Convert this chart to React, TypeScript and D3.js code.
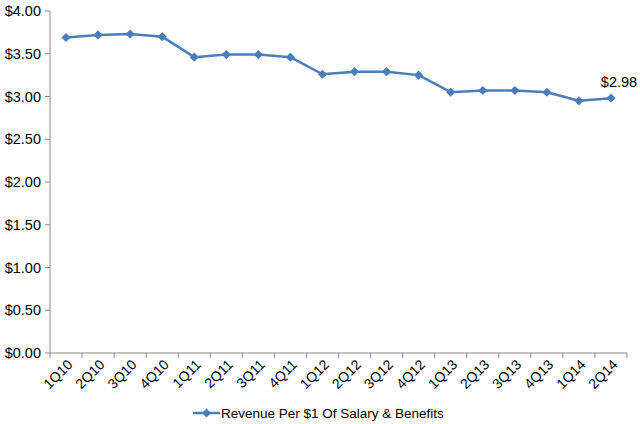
import React from "react";
import * as d3 from "d3";

const categories = ["1Q10","2Q10","3Q10","4Q10","1Q11","2Q11","3Q11","4Q11","1Q12","2Q12","3Q12","4Q12","1Q13","2Q13","3Q13","4Q13","1Q14","2Q14"];
const values = [3.69,3.72,3.73,3.70,3.46,3.49,3.49,3.46,3.26,3.29,3.29,3.25,3.05,3.07,3.07,3.05,2.95,2.98];
const yTicks = [0,0.5,1,1.5,2,2.5,3,3.5,4];
const seriesName = "Revenue Per $1 Of Salary & Benefits";

const W = 640, H = 424;
const left = 50, right = 627, top = 11, bottom = 353;
const color = "#4a7ebb";
const axisColor = "#898989";
const font = "'Liberation Sans', Arial, sans-serif";
const diamond = "M0,-4.6L4.6,0L0,4.6L-4.6,0Z";

export default function App() {
  const x = d3.scaleBand<string>().domain(categories).range([left, right]);
  const y = d3.scaleLinear().domain([0, 4]).range([bottom, top]);
  const cx = (c: string) => (x(c) as number) + x.bandwidth() / 2;
  const line = d3.line<number>().x((_, i) => cx(categories[i])).y(d => y(d));
  const tickXs = categories.map(c => x(c) as number).concat([right]);
  const last = values.length - 1;
  return (
    <svg width={W} height={H} style={{ position: "absolute", left: 0, top: 0 }} fontFamily={font}>
      <rect width={W} height={H} fill="#fff" />
      <line x1={left} x2={left} y1={top} y2={bottom} stroke={axisColor} />
      {yTicks.map(t => (
        <g key={t}>
          <line x1={left - 5} x2={left} y1={y(t)} y2={y(t)} stroke={axisColor} />
          <text x={left - 9} y={y(t)} dy="0.35em" textAnchor="end" fontSize={14.5} fill="#000">
            {"$" + t.toFixed(2)}
          </text>
        </g>
      ))}
      <line x1={left} x2={right} y1={bottom} y2={bottom} stroke={axisColor} />
      {tickXs.map((tx, i) => (
        <line key={i} x1={tx} x2={tx} y1={bottom} y2={bottom + 5} stroke={axisColor} />
      ))}
      {categories.map(c => (
        <text key={c} transform={`translate(${cx(c) + 4},${bottom + 9}) rotate(-45)`} textAnchor="end" dy="0.35em" fontSize={14} fill="#000">
          {c}
        </text>
      ))}
      <path d={line(values) as string} fill="none" stroke={color} strokeWidth={2.5} strokeLinejoin="round" />
      {values.map((v, i) => (
        <path key={i} d={diamond} transform={`translate(${cx(categories[i])},${y(v)})`} fill={color} />
      ))}
      <text x={cx(categories[last]) + 8} y={y(values[last]) - 11} textAnchor="middle" fontSize={14.5} fill="#000">
        {"$" + values[last].toFixed(2)}
      </text>
      <g transform="translate(193,413)">
        <line x1={0} x2={27} y1={0} y2={0} stroke={color} strokeWidth={2.5} />
        <path d={diamond} transform="translate(13.5,0)" fill={color} />
        <text x={28} dy="0.35em" fontSize={13.5} fill="#000">{seriesName}</text>
      </g>
    </svg>
  );
}
